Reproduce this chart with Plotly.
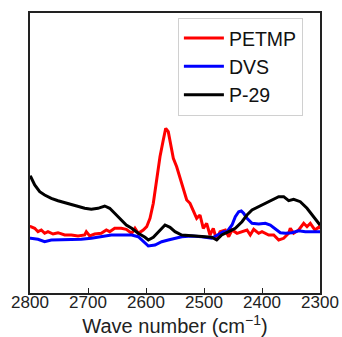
import plotly.graph_objects as go

# Wavenumbers (cm^-1) and intensities (arbitrary units)
petmp_wn = [2800, 2798.8, 2791.9, 2786.2, 2780.5, 2774.7, 2769.0, 2760.3, 2751.7, 2740.2, 2728.8,
            2717.2, 2705.7, 2702.9, 2697.1, 2688.5, 2677.1, 2668.4, 2662.6, 2654.0, 2642.6,
            2634.0, 2624.7, 2619.0, 2613.3, 2604.7, 2598.8, 2593.1, 2587.4, 2581.6, 2575.9,
            2570.2, 2566.0, 2561.6, 2556.9, 2552.9, 2547.1, 2541.4, 2535.7, 2529.8, 2524.1,
            2518.4, 2512.6, 2506.9, 2501.2, 2495.4, 2489.7, 2484.0, 2478.1, 2472.4, 2463.3,
            2457.4, 2451.7, 2443.1, 2434.5, 2425.9, 2420.2, 2414.3, 2405.7, 2400.0, 2388.4,
            2379.8, 2371.2, 2362.6, 2354.0, 2351.2, 2345.4, 2336.7, 2328.1, 2322.4, 2316.7,
            2308.6, 2301.2, 2300]
petmp_int = [0.66, 0.663, 0.647, 0.613, 0.63, 0.597, 0.613, 0.59, 0.603, 0.58, 0.58,
             0.57, 0.58, 0.613, 0.57, 0.59, 0.597, 0.63, 0.613, 0.647, 0.647,
             0.637, 0.597, 0.647, 0.597, 0.63, 0.663, 0.747, 0.897, 1.13, 1.363,
             1.53, 1.647, 1.613, 1.463, 1.347, 1.263, 1.147, 1.03, 0.93, 0.897,
             0.83, 0.747, 0.78, 0.647, 0.697, 0.58, 0.647, 0.53, 0.613, 0.63,
             0.563, 0.63, 0.597, 0.613, 0.63, 0.58, 0.637, 0.597, 0.613, 0.58,
             0.58, 0.53, 0.547, 0.597, 0.647, 0.597, 0.63, 0.697, 0.663, 0.697,
             0.63, 0.663, 0.64]

dvs_wn = [2800, 2798.8, 2786.2, 2774.7, 2763.3, 2746.0, 2728.8, 2711.6, 2694.3, 2677.1, 2659.8,
          2642.6, 2624.7, 2613.3, 2604.7, 2596.0, 2584.5, 2572.9, 2561.6, 2550.0, 2538.4,
          2521.2, 2504.0, 2486.7, 2475.3, 2466.7, 2460.3, 2451.7, 2446.0, 2440.2, 2435.7,
          2431.6, 2425.9, 2417.2, 2405.7, 2394.3, 2385.7, 2377.1, 2368.4, 2359.8, 2348.3,
          2336.7, 2325.3, 2313.8, 2301.2, 2300]
dvs_int = [0.547, 0.547, 0.537, 0.513, 0.53, 0.53, 0.537, 0.537, 0.547, 0.563, 0.58,
           0.58, 0.58, 0.563, 0.513, 0.47, 0.48, 0.513, 0.53, 0.547, 0.563,
           0.57, 0.563, 0.547, 0.58, 0.613, 0.613, 0.68, 0.763, 0.813, 0.82,
           0.797, 0.747, 0.697, 0.69, 0.697, 0.68, 0.637, 0.603, 0.597, 0.603,
           0.623, 0.613, 0.613, 0.613, 0.613]

p29_wn = [2800, 2798.8, 2791.9, 2783.3, 2774.7, 2763.3, 2751.7, 2740.2, 2728.8, 2717.2, 2705.7,
          2694.3, 2682.8, 2671.2, 2662.6, 2654.0, 2642.6, 2634.0, 2624.7, 2613.3, 2601.7,
          2596.0, 2587.4, 2578.8, 2567.2, 2558.6, 2550.0, 2538.4, 2521.2, 2504.0, 2486.7,
          2478.1, 2469.5, 2457.4, 2446.0, 2434.5, 2425.9, 2417.2, 2405.7, 2394.3, 2382.8,
          2371.2, 2362.6, 2354.0, 2345.4, 2334.0, 2322.4, 2310.9, 2301.2, 2300]
p29_int = [1.17, 1.163, 1.08, 1.013, 0.98, 0.947, 0.923, 0.903, 0.88, 0.863, 0.847,
           0.837, 0.847, 0.87, 0.847, 0.797, 0.73, 0.68, 0.647, 0.597, 0.557,
           0.53, 0.557, 0.613, 0.68, 0.657, 0.613, 0.58, 0.57, 0.563, 0.557,
           0.53, 0.58, 0.613, 0.647, 0.713, 0.78, 0.83, 0.863, 0.897, 0.93,
           0.963, 0.963, 0.923, 0.937, 0.913, 0.847, 0.763, 0.697, 0.68]

series = [("PETMP", petmp_wn, petmp_int, "#ff0000"),
          ("DVS", dvs_wn, dvs_int, "#0000ff"),
          ("P-29", p29_wn, p29_int, "#000000")]

x_ticks = [2800, 2700, 2600, 2500, 2400, 2300]

fig = go.Figure()
for name, wn, inten, color in series:
    fig.add_trace(go.Scatter(x=wn, y=inten, mode="lines", name=name,
                             line=dict(color=color, width=3)))

font_family = "Liberation Sans, Arial, sans-serif"
fig.update_layout(
    width=342, height=337,
    margin=dict(l=30, r=22, t=13, b=44, autoexpand=False),
    paper_bgcolor="white", plot_bgcolor="white",
    font=dict(family=font_family, size=17, color="#222"),
    showlegend=True,
    legend=dict(x=0.51, y=0.983, xanchor="left", yanchor="top",
                bgcolor="white", bordercolor="#d0d0d0", borderwidth=1,
                font=dict(family=font_family, size=19.5, color="#111"),
                itemwidth=40),
    xaxis=dict(range=[2800, 2300], tickvals=x_ticks, ticktext=[str(t) for t in x_ticks],
               ticks="inside", ticklen=5, tickwidth=1, tickcolor="#222",
               ticklabelstandoff=-7,
               showline=True, linecolor="#222", linewidth=1.6, mirror=True,
               showgrid=False, zeroline=False, automargin=False,
               tickfont=dict(family=font_family, size=17, color="#222"),
               title=dict(text="Wave number (cm<sup>−1</sup>)",
                          font=dict(family=font_family, size=20, color="#222"),
                          standoff=7)),
    yaxis=dict(range=[0, 2.8], showticklabels=False, ticks="", automargin=False,
               showline=True, linecolor="#222", linewidth=1.6, mirror=True,
               showgrid=False, zeroline=False),
)

fig.write_html("out.html", config={"displayModeBar": False},
               post_script="document.body.style.margin='0px';")
